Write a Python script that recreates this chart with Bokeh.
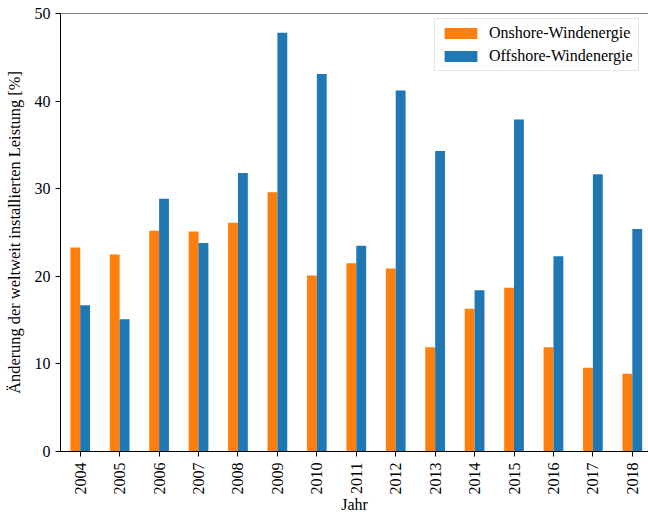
from bokeh.plotting import figure
from bokeh.models import ColumnDataSource, Range1d, FixedTicker, Span, Legend, LegendItem
from bokeh.transform import dodge
from bokeh.embed import file_html
from bokeh.resources import INLINE
import math

years = ["2004", "2005", "2006", "2007", "2008", "2009", "2010", "2011",
         "2012", "2013", "2014", "2015", "2016", "2017", "2018"]
onshore = [23.3, 22.5, 25.2, 25.1, 26.1, 29.6, 20.1, 21.5, 20.9, 11.9, 16.3, 18.7, 11.9, 9.55, 8.87]
offshore = [16.7, 15.1, 28.85, 23.8, 31.8, 47.8, 43.1, 23.5, 41.2, 34.3, 18.4, 37.9, 22.3, 31.65, 25.4]
y_ticks = [0, 10, 20, 30, 40, 50]

series_names = ["Onshore-Windenergie", "Offshore-Windenergie"]
colors = ["#ff7f0e", "#1f77b4"]

idx = list(range(len(years)))
src = ColumnDataSource(dict(x=idx, on=onshore, off=offshore))

FONT = "Liberation Serif"
FS = "16px"

p = figure(width=648, height=515, output_backend="svg", toolbar_location=None,
           x_range=Range1d(-0.5, 14.41), y_range=Range1d(0, 50),
           min_border_left=60, min_border_right=0, min_border_top=13, min_border_bottom=64)
p.outline_line_color = None
p.xgrid.visible = False
p.ygrid.visible = False
p.background_fill_color = "white"
p.border_fill_color = "white"

r_on = p.vbar(x=dodge("x", -0.125, range=p.x_range), top="on", width=0.25, source=src,
              fill_color=colors[0], line_color=None)
r_off = p.vbar(x=dodge("x", 0.125, range=p.x_range), top="off", width=0.25, source=src,
               fill_color=colors[1], line_color=None)

# top spine
p.add_layout(Span(location=50, dimension="width", line_color="black", line_width=1))

for ax in (p.xaxis[0], p.yaxis[0]):
    ax.axis_line_color = "black"
    ax.axis_line_width = 1
    ax.major_tick_line_color = "black"
    ax.major_tick_out = 5
    ax.major_tick_in = 0
    ax.minor_tick_line_color = None
    ax.major_label_text_font = FONT
    ax.major_label_text_font_size = FS
    ax.major_label_text_color = "black"
    ax.axis_label_text_font = FONT
    ax.axis_label_text_font_size = FS
    ax.axis_label_text_font_style = "normal"
    ax.axis_label_text_color = "black"

p.xaxis.ticker = FixedTicker(ticks=idx)
p.xaxis.major_label_overrides = {i: y for i, y in zip(idx, years)}
p.xaxis.major_label_orientation = math.pi / 2
p.xaxis.major_label_standoff = 6
p.xaxis.axis_label = "Jahr"
p.xaxis.axis_label_standoff = -2

p.yaxis.ticker = FixedTicker(ticks=y_ticks)
p.yaxis.major_label_standoff = 5
p.yaxis.axis_label = "Änderung der weltweit installierten Leistung [%]"
p.yaxis.axis_label_text_font_size = "16.4px"
p.yaxis.axis_label_standoff = 8

legend = Legend(items=[LegendItem(label=series_names[0], renderers=[r_on]),
                       LegendItem(label=series_names[1], renderers=[r_off])],
                location=(374, 380))
legend.label_text_font = FONT
legend.label_text_font_size = FS
legend.label_text_color = "black"
legend.glyph_width = 41
legend.glyph_height = 14
legend.label_height = 18
legend.label_standoff = 8
legend.spacing = 5
legend.padding = 5
legend.margin = 0
legend.border_line_color = "#cccccc"
legend.border_line_width = 1
legend.background_fill_alpha = 0.8
p.add_layout(legend)

open("out.html", "w").write(file_html(p, INLINE))
